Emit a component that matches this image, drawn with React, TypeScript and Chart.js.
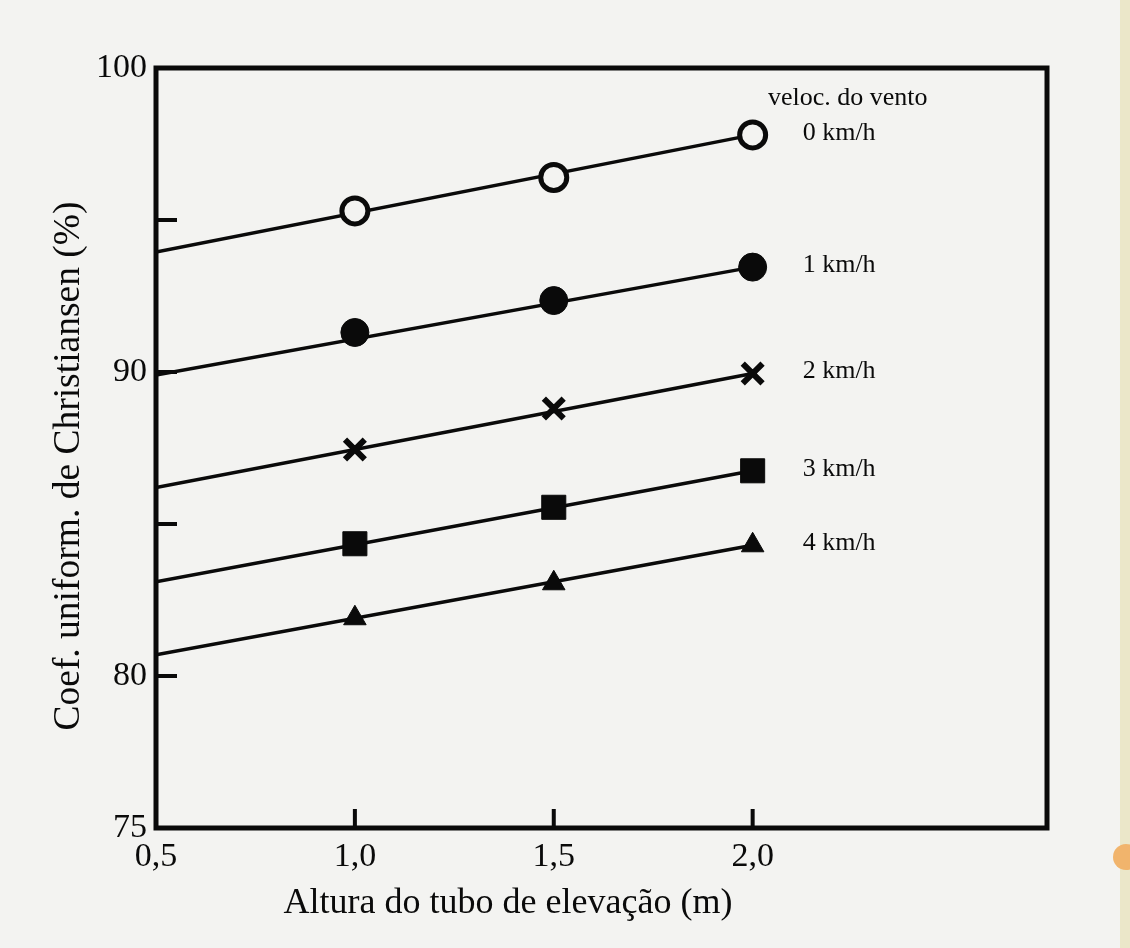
import React, { useEffect, useRef } from 'react';
import { Chart, registerables } from 'chart.js';

Chart.register(...registerables);

// ---------- data ----------
const speedLabels = ['0 km/h', '1 km/h', '2 km/h', '3 km/h', '4 km/h'];
const pointX = [1.0, 1.5, 2.0];
const fitX = [0.5, 2.0];

const cu0kmh = [95.3, 96.4, 97.8];
const cu1kmh = [91.3, 92.35, 93.45];
const cu2kmh = [87.45, 88.8, 89.95];
const cu3kmh = [84.35, 85.55, 86.75];
const cu4kmh = [81.9, 83.05, 84.3];

const fit0kmh = [93.95, 97.8];
const fit1kmh = [89.9, 93.45];
const fit2kmh = [86.2, 89.95];
const fit3kmh = [83.1, 86.75];
const fit4kmh = [80.7, 84.3];

const xTicks = [0.5, 1.0, 1.5, 2.0];
const xTickLabels = ['0,5', '1,0', '1,5', '2,0'];
const yTicks = [75, 80, 85, 90, 95, 100];
const yTickLabels = ['75', '80', '', '90', '', '100'];

const legendTitle = 'veloc. do vento';
const xTitle = 'Altura do tubo de elevação (m)';
const yTitle = 'Coef. uniform. de Christiansen (%)';

// ---------- styles ----------
const PAPER = '#f3f3f1';
const INK = '#0a0a0a';
const SERIF = '"Liberation Serif", "DejaVu Serif", serif';

const pointSeries = [cu0kmh, cu1kmh, cu2kmh, cu3kmh, cu4kmh];
const fitSeries = [fit0kmh, fit1kmh, fit2kmh, fit3kmh, fit4kmh];

const markerStyles = [
  { pointStyle: 'circle', radius: 13, bg: PAPER, borderWidth: 5 },
  { pointStyle: 'circle', radius: 14, bg: INK, borderWidth: 1 },
  { pointStyle: 'crossRot', radius: 14, bg: INK, borderWidth: 6 },
  { pointStyle: 'rect', radius: 17, bg: INK, borderWidth: 1 },
  { pointStyle: 'triangle', radius: 13, bg: INK, borderWidth: 1 },
];

const decorPlugin = {
  id: 'decor',
  beforeDraw(chart: any) {
    const { ctx, width, height } = chart;
    ctx.save();
    ctx.fillStyle = PAPER;
    ctx.fillRect(0, 0, width, height);
    ctx.fillStyle = '#ebe7c9';
    ctx.fillRect(1120, 0, width - 1120, height);
    ctx.fillStyle = '#f1b46c';
    ctx.beginPath();
    ctx.arc(1126, 857, 13, 0, Math.PI * 2);
    ctx.fill();
    ctx.restore();
  },
  beforeDatasetsDraw(chart: any) {
    const { ctx, chartArea } = chart;
    const xs = chart.scales.x;
    const ys = chart.scales.y;
    ctx.save();
    ctx.strokeStyle = INK;
    ctx.lineWidth = 5;
    ctx.strokeRect(chartArea.left, chartArea.top, chartArea.right - chartArea.left, chartArea.bottom - chartArea.top);
    // inward tick marks
    ctx.lineWidth = 4;
    ctx.beginPath();
    yTicks.forEach((v) => {
      if (v === ys.min || v === ys.max) return;
      const py = ys.getPixelForValue(v);
      ctx.moveTo(chartArea.left, py);
      ctx.lineTo(chartArea.left + 21, py);
    });
    xTicks.forEach((v) => {
      if (v === xs.min) return;
      const px = xs.getPixelForValue(v);
      ctx.moveTo(px, chartArea.bottom);
      ctx.lineTo(px, chartArea.bottom - 19);
    });
    ctx.stroke();
    ctx.restore();
  },
  afterDraw(chart: any) {
    const { ctx, chartArea } = chart;
    ctx.save();
    ctx.fillStyle = INK;
    // legend texts next to the last marker of each series
    ctx.font = `26px ${SERIF}`;
    ctx.textAlign = 'left';
    ctx.textBaseline = 'middle';
    speedLabels.forEach((lbl, i) => {
      const meta = chart.getDatasetMeta(i);
      const last = meta.data[meta.data.length - 1];
      ctx.fillText(lbl, last.x + 50, last.y - 2);
    });
    ctx.fillText(legendTitle, chartArea.left + 612, chartArea.top + 30);
    // x axis title
    ctx.font = `36px ${SERIF}`;
    ctx.textAlign = 'center';
    ctx.textBaseline = 'alphabetic';
    ctx.fillText(xTitle, 508, 913);
    // y axis title
    ctx.font = `37.5px ${SERIF}`;
    ctx.translate(79, 466);
    ctx.rotate(-Math.PI / 2);
    ctx.fillText(yTitle, 0, 0);
    ctx.restore();
  },
};

export default function App() {
  const canvasRef = useRef<HTMLCanvasElement | null>(null);

  useEffect(() => {
    const canvas = canvasRef.current;
    if (!canvas) return;

    const markerSets = speedLabels.map((lbl, i) => ({
      label: lbl,
      data: pointX.map((x, j) => ({ x, y: pointSeries[i][j] })),
      showLine: false,
      pointStyle: markerStyles[i].pointStyle,
      pointRadius: markerStyles[i].radius,
      pointBackgroundColor: markerStyles[i].bg,
      pointBorderColor: INK,
      pointBorderWidth: markerStyles[i].borderWidth,
      order: 0,
    }));
    const fitSets = speedLabels.map((lbl, i) => ({
      label: lbl + ' (ajuste)',
      data: fitX.map((x, j) => ({ x, y: fitSeries[i][j] })),
      showLine: true,
      borderColor: INK,
      borderWidth: 3.5,
      pointRadius: 0,
      order: 1,
    }));

    const chart = new Chart(canvas, {
      type: 'scatter',
      data: { datasets: [...markerSets, ...fitSets] as any },
      options: {
        responsive: false,
        animation: false,
        devicePixelRatio: 1,
        layout: { padding: { top: 68, right: 83, left: 0, bottom: 0 } },
        plugins: { legend: { display: false }, tooltip: { enabled: false } },
        scales: {
          x: {
            type: 'linear',
            min: 0.5,
            max: 2.74,
            grid: { display: false, drawTicks: false },
            border: { display: false },
            afterBuildTicks: (scale: any) => {
              scale.ticks = xTicks.map((v) => ({ value: v }));
            },
            afterFit: (scale: any) => {
              scale.height = 120;
            },
            ticks: {
              padding: 9,
              color: INK,
              font: { family: SERIF, size: 34 },
              callback: (v: any) => {
                const k = xTicks.findIndex((t) => Math.abs(t - Number(v)) < 1e-6);
                return k >= 0 ? xTickLabels[k] : '';
              },
            },
          },
          y: {
            type: 'linear',
            min: 75,
            max: 100,
            grid: { display: false, drawTicks: false },
            border: { display: false },
            afterBuildTicks: (scale: any) => {
              scale.ticks = yTicks.map((v) => ({ value: v }));
            },
            afterFit: (scale: any) => {
              scale.width = 156;
            },
            ticks: {
              padding: 9,
              color: INK,
              font: { family: SERIF, size: 34 },
              callback: (v: any) => {
                const k = yTicks.findIndex((t) => Math.abs(t - Number(v)) < 1e-6);
                return k >= 0 ? yTickLabels[k] : '';
              },
            },
          },
        },
      },
      plugins: [decorPlugin],
    });

    return () => chart.destroy();
  }, []);

  return (
    <div style={{ position: 'absolute', left: 0, top: 0, width: 1130, height: 948, background: PAPER }}>
      <canvas ref={canvasRef} width={1130} height={948} />
    </div>
  );
}
